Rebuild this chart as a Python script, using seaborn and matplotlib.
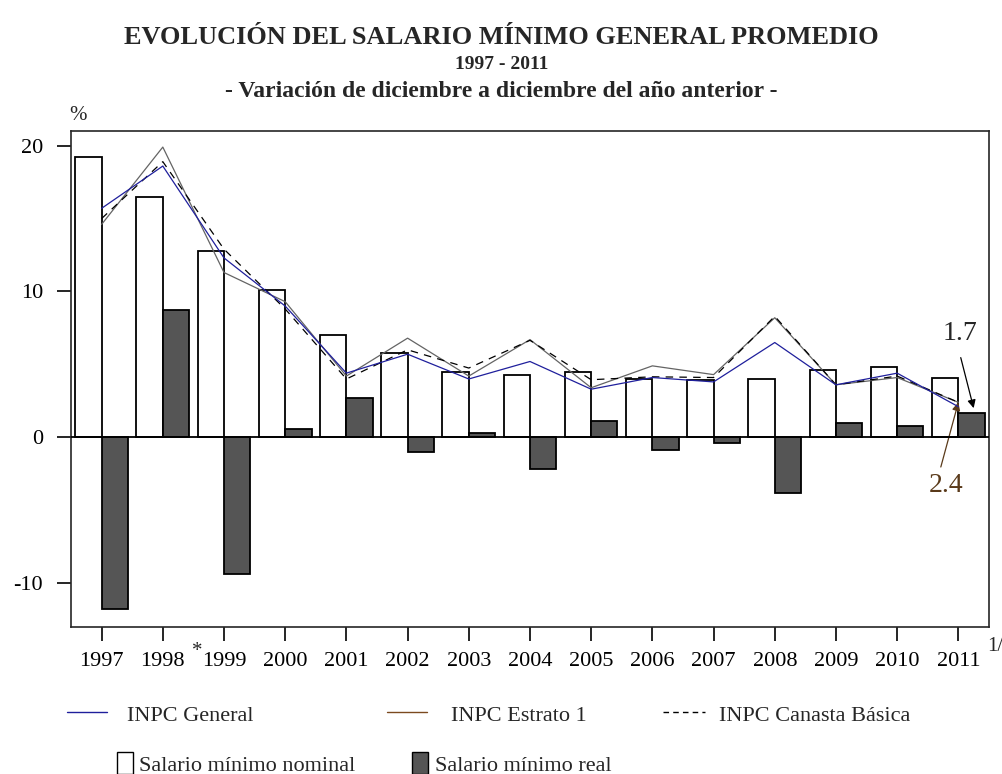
import matplotlib
matplotlib.use('Agg')
import matplotlib.pyplot as plt
import seaborn as sns
import pandas as pd
import numpy as np
from matplotlib.lines import Line2D
from matplotlib.patches import Patch

years = ['1997', '1998', '1999', '2000', '2001', '2002', '2003', '2004',
         '2005', '2006', '2007', '2008', '2009', '2010', '2011']
salario_nominal = [19.2, 16.5, 12.8, 10.1, 7.0, 5.8, 4.5, 4.3, 4.5, 4.0, 3.9, 4.0, 4.6, 4.85, 4.1]
salario_real = [-11.8, 8.7, -9.4, 0.6, 2.7, -1.0, 0.3, -2.2, 1.1, -0.85, -0.4, -3.8, 1.0, 0.8, 1.7]
inpc_general = [15.7, 18.6, 12.3, 9.0, 4.4, 5.7, 4.0, 5.2, 3.3, 4.1, 3.8, 6.5, 3.6, 4.4, 2.1]
inpc_estrato1 = [14.6, 19.9, 11.3, 9.3, 4.2, 6.8, 4.2, 6.7, 3.4, 4.9, 4.3, 8.2, 3.6, 4.1, 2.4]
inpc_canasta = [15.0, 18.9, 12.9, 8.8, 4.0, 6.0, 4.75, 6.65, 3.95, 4.15, 4.1, 8.3, 3.6, 4.2, 2.4]

sns.set_theme(style='ticks')
plt.rcParams['font.family'] = ['Liberation Serif', 'DejaVu Serif']

NOMINAL = 'Salario mínimo nominal'
REAL = 'Salario mínimo real'
bar_df = pd.DataFrame({
    'Año': years * 2,
    'Serie': [NOMINAL] * len(years) + [REAL] * len(years),
    'Valor': salario_nominal + salario_real,
})

fig = plt.figure(figsize=(10.03, 7.74), dpi=100)
ax = fig.add_axes([0.0708, 0.19, 0.9152, 0.6407])

real_color = '#555555'
sns.barplot(data=bar_df, x='Año', y='Valor', hue='Serie', order=years,
            hue_order=[NOMINAL, REAL], palette={NOMINAL: 'white', REAL: real_color},
            width=0.86, edgecolor='black', linewidth=1.3, saturation=1,
            errorbar=None, legend=False, ax=ax, zorder=2)

# INPC lines, drawn over the bars
x = np.arange(len(years))
blue = '#1f1f9c'
estrato_color = '#646464'
ax.plot(x, inpc_estrato1, color=estrato_color, lw=0.9, zorder=3)
ax.plot(x, inpc_canasta, color='black', lw=0.9, ls=(0, (6, 5)), zorder=3)
ax.plot(x, inpc_general, color=blue, lw=0.9, zorder=4)

ax.axhline(0, color='black', lw=1.3, zorder=5)
ax.set_xlim(-0.5, 14.5)
ax.set_ylim(-13, 21)
ax.set_yticks([-10, 0, 10, 20])
ax.set_yticklabels(['-10', '0', '10', '20'])
ax.set_xlabel('')
ax.set_ylabel('')
for s in ax.spines.values():
    s.set_visible(True)
    s.set_linewidth(1.2)
ax.tick_params(axis='both', direction='out', length=10, width=1.2, labelsize=16,
               colors='black', pad=8)
ax.tick_params(axis='y', pad=10)

# footnote marks
ax.annotate('*', xy=(1, 0), xycoords=('data', 'axes fraction'), xytext=(21, -18),
            textcoords='offset points', fontsize=15, ha='left', va='center')
ax.annotate('1/', xy=(1, 0), xycoords='axes fraction', xytext=(-1, -14),
            textcoords='offset points', fontsize=15, ha='left', va='center')
ax.annotate('%', xy=(0, 1), xycoords='axes fraction', xytext=(5, 4),
            textcoords='offset points', fontsize=15, ha='center', va='bottom')

# value annotations
ax.annotate('1.7', xy=(14.25, salario_real[-1] + 0.3), xytext=(14.02, 7.1),
            fontsize=20, ha='center', va='center',
            arrowprops=dict(arrowstyle='-|>', color='black', lw=0.9, shrinkA=6, shrinkB=0,
                            relpos=(0.45, 0), mutation_scale=12))
ax.annotate('2.4', xy=(14.0, inpc_estrato1[-1]), xytext=(13.8, -3.3),
            fontsize=20, ha='center', va='center', color='#5a3a1a',
            arrowprops=dict(arrowstyle='-|>', color='#5a3a1a', lw=0.9, shrinkA=2, shrinkB=0,
                            relpos=(0.3, 1), mutation_scale=12))

fig.text(0.5, 0.951, 'EVOLUCIÓN DEL SALARIO MÍNIMO GENERAL PROMEDIO', ha='center',
         va='center', fontsize=19, fontweight='bold')
fig.text(0.5, 0.917, '1997 - 2011', ha='center', va='center', fontsize=14, fontweight='bold')
fig.text(0.5, 0.882, '- Variación de diciembre a diciembre del año anterior -', ha='center',
         va='center', fontsize=17, fontweight='bold')


def legend_item(handle, label, x0, y0, hl, tp):
    leg = fig.legend([handle], [label], loc='center left', bbox_to_anchor=(x0, y0),
                     frameon=False, fontsize=16, borderpad=0, borderaxespad=0,
                     handlelength=hl, handleheight=1.1, handletextpad=tp)
    return leg


legend_item(Line2D([], [], color=blue, lw=1), 'INPC General', 0.0668, 0.0775, 1.8, 0.9)
legend_item(Line2D([], [], color='#7b4a1f', lw=1), 'INPC Estrato 1', 0.3858, 0.0775, 1.8, 1.1)
legend_item(Line2D([], [], color='black', lw=1, ls=(0, (4, 3))), 'INPC Canasta Básica',
            0.661, 0.0775, 1.9, 0.6)
legend_item(Patch(facecolor='white', edgecolor='black', lw=1), NOMINAL, 0.1167, 0.0129, 0.7, 0.3)
legend_item(Patch(facecolor=real_color, edgecolor='black', lw=1), REAL, 0.4108, 0.0129, 0.72, 0.3)

fig.savefig('out.png', dpi=100)
